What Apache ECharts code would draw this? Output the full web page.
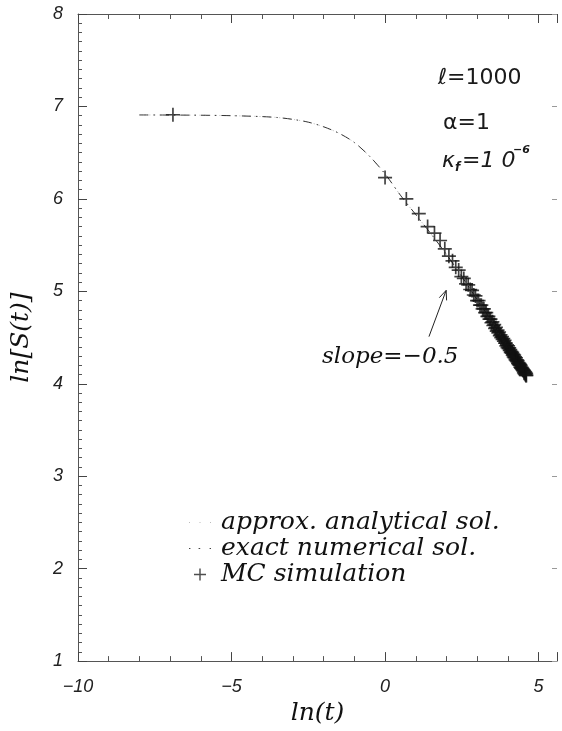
<!DOCTYPE html>
<html>
<head>
<meta charset="utf-8">
<script src="https://cdn.jsdelivr.net/npm/echarts@6/dist/echarts.min.js"></script>
<style>
  html, body { margin: 0; padding: 0; background: #fff; }
  #chart { width: 562px; height: 731px; }
</style>
</head>
<body>
<div id="chart"></div>
<script>
// ln(t) sample points of the solution curves
const curveLnT = [-8, -7, -6, -5, -4, -3.5, -3, -2.5, -2, -1.5, -1, -0.5, 0, 0.5, 1, 1.5, 2, 2.5, 3, 3.5, 4, 4.6];
// approximate analytical solution, ln S(t)
const approxLnS = [6.908, 6.907, 6.905, 6.9, 6.89, 6.88, 6.86, 6.83, 6.78, 6.71, 6.61, 6.46, 6.27, 6.04, 5.83, 5.62, 5.40, 5.16, 4.91, 4.66, 4.40, 4.09];
// exact numerical solution, ln S(t)
const exactLnS = [6.908, 6.907, 6.905, 6.9, 6.89, 6.88, 6.86, 6.83, 6.78, 6.71, 6.61, 6.46, 6.27, 6.04, 5.83, 5.62, 5.40, 5.16, 4.91, 4.66, 4.40, 4.09];

// Monte Carlo sampling times t and the measured ln S(t)
const mcTimes = [0.001,
  1, 2, 3, 4, 5, 6, 7, 8, 9, 10,
  11, 12, 13, 14, 15, 16, 17, 18, 19, 20,
  21, 22, 23, 24, 25, 26, 27, 28, 29, 30,
  31, 32, 33, 34, 35, 36, 37, 38, 39, 40,
  41, 42, 43, 44, 45, 46, 47, 48, 49, 50,
  51, 52, 53, 54, 55, 56, 57, 58, 59, 60,
  61, 62, 63, 64, 65, 66, 67, 68, 69, 70,
  71, 72, 73, 74, 75, 76, 77, 78, 79, 80,
  81, 82, 83, 84, 85, 86, 87, 88, 89, 90,
  91, 92, 93, 94, 95, 96, 97, 98, 99, 100];
const mcLnS = [6.91,
  6.23, 6.00, 5.84, 5.70, 5.63, 5.55, 5.46, 5.38, 5.33, 5.26,
  5.23, 5.16, 5.14, 5.08, 5.07, 5.02, 5.01, 4.96, 4.95, 4.90,
  4.90, 4.85, 4.85, 4.81, 4.81, 4.77, 4.77, 4.73, 4.73, 4.70,
  4.70, 4.66, 4.67, 4.63, 4.64, 4.60, 4.61, 4.57, 4.58, 4.55,
  4.56, 4.52, 4.53, 4.50, 4.51, 4.48, 4.49, 4.46, 4.47, 4.44,
  4.44, 4.41, 4.42, 4.39, 4.41, 4.38, 4.39, 4.36, 4.37, 4.34,
  4.35, 4.33, 4.34, 4.31, 4.32, 4.29, 4.31, 4.28, 4.29, 4.26,
  4.28, 4.25, 4.26, 4.24, 4.25, 4.22, 4.23, 4.21, 4.22, 4.20,
  4.21, 4.18, 4.20, 4.17, 4.18, 4.16, 4.17, 4.15, 4.16, 4.14,
  4.15, 4.12, 4.14, 4.11, 4.13, 4.10, 4.12, 4.09, 4.11, 4.09];

// axis tick values
const xTicks = [-10, -5, 0, 5];
const yTicks = [1, 2, 3, 4, 5, 6, 7, 8];

const chart = echarts.init(document.getElementById('chart'));

const plusPath = 'path://M0,8.8H20V11.2H0Z M8.8,0H11.2V20H8.8Z';
const serifItalic = { fontFamily: 'DejaVu Serif', fontStyle: 'italic', color: '#111' };
const sansItalic = { fontFamily: 'Liberation Sans', fontStyle: 'italic', color: '#222' };
const frameColor = '#555';

function fmt(v) {
  return String(v).replace('-', '\u2212');
}

function xAxisOf(extra) {
  return Object.assign({
    type: 'value', min: xTicks[0], max: 5.6, interval: 5,
    axisLine: { show: true, onZero: false, lineStyle: { color: frameColor, width: 1 } },
    axisTick: { show: true, inside: true, length: 9, lineStyle: { color: '#444', width: 1 } },
    minorTick: { show: true, splitNumber: 5, length: 5, lineStyle: { color: '#555', width: 1 } },
    splitLine: { show: false }
  }, extra);
}
function yAxisOf(extra) {
  return Object.assign({
    type: 'value', min: yTicks[0], max: yTicks[yTicks.length - 1], interval: 1,
    axisLine: { show: true, onZero: false, lineStyle: { color: frameColor, width: 1 } },
    axisTick: { show: true, inside: true, length: 9, lineStyle: { color: '#444', width: 1 } },
    minorTick: { show: true, splitNumber: 10, length: 4, lineStyle: { color: '#555', width: 1 } },
    splitLine: { show: false }
  }, extra);
}

// legend samples of the two curves
const exactIcon = 'path://M0,0h1.4v1.2h-1.4Z M9.6,0h1.6v1.2h-1.6Z M20.6,0h1.4v1.2h-1.4Z';
const approxIcon = 'path://M0,0h1v1h-1Z M10.5,0h1v1h-1Z M21,0h1v1h-1Z';

chart.setOption({
  animation: false,
  backgroundColor: '#fff',
  grid: { left: 78, right: 5, top: 14, bottom: 67, containLabel: false },
  xAxis: [
    xAxisOf({
      position: 'bottom',
      axisLabel: Object.assign({ margin: 17, fontSize: 18, showMaxLabel: false, formatter: fmt }, sansItalic),
      name: 'ln(t)', nameLocation: 'middle', nameGap: 28,
      nameTextStyle: Object.assign({ fontSize: 25 }, serifItalic)
    }),
    xAxisOf({ position: 'top', axisLabel: { show: false } })
  ],
  yAxis: [
    yAxisOf({
      position: 'left',
      axisLabel: Object.assign({ margin: 15, fontSize: 18, formatter: fmt }, sansItalic),
      name: 'ln[S(t)]', nameLocation: 'middle', nameGap: 44, nameRotate: 90,
      nameTextStyle: Object.assign({ fontSize: 25 }, serifItalic)
    }),
    yAxisOf({
      position: 'right',
      axisLine: { show: false, onZero: false },
      axisTick: { show: true, inside: true, length: 5, lineStyle: { color: '#999', width: 1 } },
      minorTick: { show: false },
      axisLabel: { show: false }
    })
  ],
  legend: {
    orient: 'vertical', left: 184, top: 505,
    itemWidth: 22, itemHeight: 12, itemGap: 1,
    symbolKeepAspect: true,
    textStyle: Object.assign({ fontSize: 25, padding: [0, 0, 0, 5] }, serifItalic),
    data: [
      { name: 'approx. analytical sol.', icon: approxIcon, itemStyle: { color: '#bbb' } },
      { name: 'exact numerical sol.', icon: exactIcon, itemStyle: { color: '#444' } },
      { name: 'MC simulation', icon: plusPath, itemStyle: { color: '#222' } }
    ]
  },
  series: [
    {
      name: 'approx. analytical sol.', type: 'line', symbol: 'none', smooth: 0.3,
      data: curveLnT.map((x, i) => [x, approxLnS[i]]),
      lineStyle: { type: [1, 4], width: 1, color: '#bbb' },
      itemStyle: { color: '#bbb' }, z: 2
    },
    {
      name: 'exact numerical sol.', type: 'line', symbol: 'none', smooth: 0.3,
      data: curveLnT.map((x, i) => [x, exactLnS[i]]),
      lineStyle: { type: [9, 5, 1.5, 5], width: 1, color: '#333' },
      itemStyle: { color: '#333' }, z: 3
    },
    {
      name: 'MC simulation', type: 'scatter', symbol: plusPath, symbolSize: 14,
      data: mcTimes.map((t, i) => [Math.log(t), mcLnS[i]]),
      itemStyle: { color: '#111' }, z: 4
    }
  ]
});

// annotations: parameters, slope label and arrow
const tail = chart.convertToPixel({ gridIndex: 0 }, [1.43, 4.51]);
const head = chart.convertToPixel({ gridIndex: 0 }, [1.99, 5.01]);
const ang = Math.atan2(head[1] - tail[1], head[0] - tail[0]);
const hl = 10, ha = 0.4;
const headL = [head[0] - hl * Math.cos(ang - ha), head[1] - hl * Math.sin(ang - ha)];
const headR = [head[0] - hl * Math.cos(ang + ha), head[1] - hl * Math.sin(ang + ha)];

const paramFont = { fontFamily: 'DejaVu Sans', fill: '#1a1a1a' };
chart.setOption({
  graphic: [
    { type: 'text', left: 438, top: 67, style: Object.assign({ text: '\u2113=1000', fontSize: 22 }, paramFont) },
    { type: 'text', left: 443, top: 112, style: Object.assign({ text: '\u03b1=1', fontSize: 22 }, paramFont) },
    { type: 'text', left: 442, top: 150, style: Object.assign({ text: '\u03ba', fontSize: 22, fontStyle: 'italic' }, paramFont) },
    { type: 'text', left: 455, top: 162, style: Object.assign({ text: 'f', fontSize: 12, fontStyle: 'italic', fontWeight: 'bold' }, paramFont) },
    { type: 'text', left: 462, top: 150, style: Object.assign({ text: '=1 0', fontSize: 22, fontStyle: 'italic' }, paramFont) },
    { type: 'text', left: 513, top: 145, style: Object.assign({ text: '\u22126', fontSize: 11, fontStyle: 'italic', fontWeight: 'bold' }, paramFont) },
    { type: 'text', left: 322, top: 346, style: Object.assign({ text: 'slope=\u22120.5', fontSize: 23 }, { fontFamily: 'DejaVu Serif', fontStyle: 'italic', fill: '#111' }) },
    { type: 'line', shape: { x1: tail[0], y1: tail[1], x2: head[0], y2: head[1] }, style: { stroke: '#222', lineWidth: 1 } },
    { type: 'polyline', shape: { points: [headL, head, headR] }, style: { stroke: '#222', lineWidth: 1, fill: null } }
  ]
});
</script>
</body>
</html>
